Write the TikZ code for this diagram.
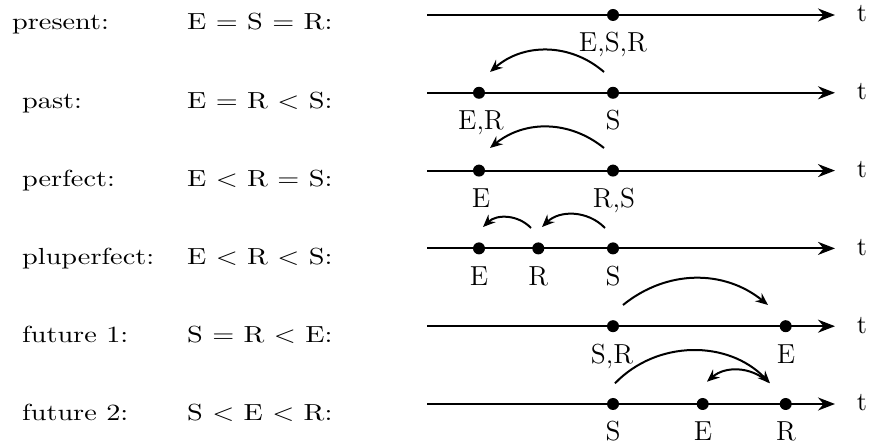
\documentclass[tikz,border=0pt]{standalone}
\usepackage{graphicx}
\usetikzlibrary{arrows.meta}
\newcommand{\lefttext}[1]{\scalebox{1.13}[0.93]{#1}}
\begin{document}
\begin{tikzpicture}[x=0.4pt,y=0.4pt,
  tline/.style={line width=0.85pt,-{Stealth[length=6.8pt,width=5.2pt,inset=2.2pt]}},
  carrow/.style={line width=0.8pt,-{Stealth[length=5pt,width=4.2pt,inset=1.7pt]}},
  dot/.style={circle,fill=black,inner sep=0pt,minimum size=4.8pt},
  lbl/.style={anchor=base,inner sep=0pt,font=\fontsize{11}{13}\selectfont},
  tlbl/.style={inner sep=0pt,font=\fontsize{10.5}{12}\selectfont},
  ltxt/.style={anchor=base west,inner sep=0pt}]
\useasboundingbox (0,0) rectangle (873,446);

% ---------- row 1: present
\node[ltxt] (n1) at (11.7,416) {\lefttext{present:}};
\node[ltxt] (f1) at (186.7,416) {\lefttext{E = S = R:}};
\coordinate (a1) at (427,431); \coordinate (b1) at (835,431);
\draw[tline] (a1) -- (b1);
\node[tlbl] (t1) at (862,432) {t};
\node[dot] (d1s) at (613,431) {};
\node[lbl] (l1s) at (613,394) {E,S,R};

% ---------- row 2: past
\node[ltxt] (n2) at (21.7,337.8) {\lefttext{past:}};
\node[ltxt] (f2) at (186.7,337.8) {\lefttext{E = R < S:}};
\coordinate (a2) at (427,353.2); \coordinate (b2) at (835,353.2);
\draw[tline] (a2) -- (b2);
\node[tlbl] (t2) at (862,354.2) {t};
\node[dot] (d2e) at (479,353.2) {};
\node[dot] (d2s) at (613,353.2) {};
\node[lbl] (l2e) at (481,316.2) {E,R};
\node[lbl] (l2s) at (613,316.2) {S};
\coordinate (c2a) at (604,374); \coordinate (c2b) at (490,374);
\draw[carrow] (c2a) to[bend right=41] (c2b);

% ---------- row 3: perfect
\node[ltxt] (n3) at (21.7,259.6) {\lefttext{perfect:}};
\node[ltxt] (f3) at (186.7,259.6) {\lefttext{E < R = S:}};
\coordinate (a3) at (427,275.4); \coordinate (b3) at (835,275.4);
\draw[tline] (a3) -- (b3);
\node[tlbl] (t3) at (862,276.4) {t};
\node[dot] (d3e) at (479,275.4) {};
\node[dot] (d3s) at (613,275.4) {};
\node[lbl] (l3e) at (481,238.4) {E};
\node[lbl] (l3s) at (614,238.4) {R,S};
\coordinate (c3a) at (604,298); \coordinate (c3b) at (490,298);
\draw[carrow] (c3a) to[bend right=39] (c3b);

% ---------- row 4: pluperfect
\node[ltxt] (n4) at (21.7,181.4) {\lefttext{pluperfect:}};
\node[ltxt] (f4) at (186.7,181.4) {\lefttext{E < R < S:}};
\coordinate (a4) at (427,197.6); \coordinate (b4) at (835,197.6);
\draw[tline] (a4) -- (b4);
\node[tlbl] (t4) at (862,198.6) {t};
\node[dot] (d4e) at (479,197.6) {};
\node[dot] (d4r) at (538.3,197.6) {};
\node[dot] (d4s) at (613,197.6) {};
\node[lbl] (l4e) at (479,160.6) {E};
\node[lbl] (l4r) at (538.3,160.6) {R};
\node[lbl] (l4s) at (613,160.6) {S};
\coordinate (c4a) at (531,218); \coordinate (c4b) at (483,219);
\draw[carrow] (c4a) to[bend right=45] (c4b);
\coordinate (c4c) at (605,218); \coordinate (c4d) at (542,219);
\draw[carrow] (c4c) to[bend right=45] (c4d);

% ---------- row 5: future 1
\node[ltxt] (n5) at (21.7,103.2) {\lefttext{future 1:}};
\node[ltxt] (f5) at (186.7,103.2) {\lefttext{S = R < E:}};
\coordinate (a5) at (427,119.8); \coordinate (b5) at (835,119.8);
\draw[tline] (a5) -- (b5);
\node[tlbl] (t5) at (862,120.8) {t};
\node[dot] (d5s) at (613,119.8) {};
\node[dot] (d5e) at (785.7,119.8) {};
\node[lbl] (l5s) at (612,82.8) {S,R};
\node[lbl] (l5e) at (786,82.8) {E};
\coordinate (c5a) at (623,141); \coordinate (c5b) at (768,141);
\draw[carrow] (c5a) to[bend left=39] (c5b);

% ---------- row 6: future 2
\node[ltxt] (n6) at (21.7,25) {\lefttext{future 2:}};
\node[ltxt] (f6) at (186.7,25) {\lefttext{S < E < R:}};
\coordinate (a6) at (427,42); \coordinate (b6) at (835,42);
\draw[tline] (a6) -- (b6);
\node[tlbl] (t6) at (862,43) {t};
\node[dot] (d6s) at (613,42) {};
\node[dot] (d6e) at (702.7,42) {};
\node[dot] (d6r) at (785.7,42) {};
\node[lbl] (l6s) at (613,5) {S};
\node[lbl] (l6e) at (703,5) {E};
\node[lbl] (l6r) at (786,5) {R};
\coordinate (c6a) at (615,62.7); \coordinate (c6b) at (770,62.7);
\draw[carrow] (c6a) to[bend left=46] (c6b);
\coordinate (c6c) at (768,64.3); \coordinate (c6d) at (707,64.3);
\draw[carrow] (c6c) to[bend right=41] (c6d);
\end{tikzpicture}
\end{document}
